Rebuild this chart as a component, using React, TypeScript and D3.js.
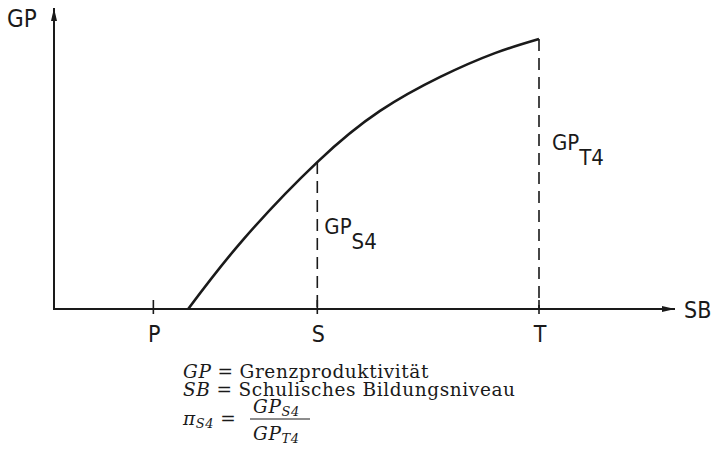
import React from "react";
import * as d3 from "d3";

// Marginal productivity curve over schooling level
const schoolingLevel = [21.6, 30.4, 42.4, 52.5, 62.2, 71.0, 78.1];
const marginalProductivity = [0, 22.9, 48.8, 65.8, 77.1, 85.0, 89.7];

// Marked positions on the schooling axis
const tickLabels = ["P", "S", "T"];
const tickValues = [16, 42.4, 78.1];

// Dashed drop lines (from the curve down to the axis) with their labels
const dropAt = [42.4, 78.1];
const dropHeights = [48.8, 89.7];
const dropMain = ["GP", "GP"];
const dropSub = ["S4", "T4"];

const W = 712;
const H = 463;
const sans = "'Liberation Sans Narrow', 'DejaVu Sans Condensed', sans-serif";
const serif = "'DejaVu Serif', serif";

export default function App() {
  const x = d3.scaleLinear().domain([0, 100]).range([54, 675]);
  const y = d3.scaleLinear().domain([0, 100]).range([309, 8]);

  const line = d3
    .line<number>()
    .x((_, i) => x(schoolingLevel[i]))
    .y((d) => y(d))
    .curve(d3.curveNatural);

  const x0 = x(0);
  const y0 = y(0);

  return (
    <svg
      width={W}
      height={H}
      style={{ position: "absolute", left: 0, top: 0, background: "#fff" }}
    >
      <defs>
        <marker
          id="arrow"
          viewBox="0 0 13 8"
          refX="13"
          refY="4"
          markerWidth="13"
          markerHeight="8"
          markerUnits="userSpaceOnUse"
          orient="auto"
        >
          <path d="M0,1 L13,4 L0,7 Z" fill="#1a1a1a" />
        </marker>
      </defs>

      {/* axes */}
      <line x1={x0} y1={y0} x2={x(100)} y2={y0} stroke="#1a1a1a" strokeWidth={2} markerEnd="url(#arrow)" />
      <line x1={x0} y1={y0 + 1} x2={x0} y2={y(100)} stroke="#1a1a1a" strokeWidth={2} markerEnd="url(#arrow)" />

      {/* axis ticks and labels */}
      {tickValues.map((v, i) => (
        <g key={tickLabels[i]}>
          <line x1={x(v)} x2={x(v)} y1={y0 - 9} y2={y0 + 5} stroke="#1a1a1a" strokeWidth={1.6} />
          <text x={x(v) + 1} y={y0 + 33} textAnchor="middle" fontFamily={sans} fontSize={23} fill="#1a1a1a">
            {tickLabels[i]}
          </text>
        </g>
      ))}

      <text x={7} y={27} fontFamily={sans} fontSize={24} fill="#1a1a1a">GP</text>
      <text x={684} y={318} fontFamily={sans} fontSize={23} fill="#1a1a1a">SB</text>

      {/* dashed drop lines */}
      {dropAt.map((v, i) => (
        <g key={"drop" + i}>
          <line
            x1={x(v)}
            x2={x(v)}
            y1={y(dropHeights[i])}
            y2={y0}
            stroke="#1a1a1a"
            strokeWidth={1.6}
            strokeDasharray="12,7"
          />
          <text
            x={x(v) + 7 + (i === 1 ? 6 : 0)}
            y={i === 0 ? 234 : 150}
            fontFamily={sans}
            fontSize={22}
            fill="#1a1a1a"
          >
            {dropMain[i]}
            <tspan dy={15} fontSize={22}>{dropSub[i]}</tspan>
          </text>
        </g>
      ))}

      {/* curve */}
      <path d={line(marginalProductivity) ?? ""} fill="none" stroke="#1a1a1a" strokeWidth={2.6} />

      {/* legend */}
      <g fontFamily={serif} fontSize={18.5} fill="#1a1a1a" letterSpacing={0.6}>
        <text x={183} y={378}>
          <tspan fontStyle="italic">GP</tspan>
          <tspan dx={6}>=</tspan>
          <tspan dx={6}>Grenzproduktivität</tspan>
        </text>
        <text x={183} y={396}>
          <tspan fontStyle="italic">SB</tspan>
          <tspan dx={6}>=</tspan>
          <tspan dx={6}>Schulisches Bildungsniveau</tspan>
        </text>
        <text x={183} y={425}>
          <tspan fontStyle="italic">π</tspan>
          <tspan fontStyle="italic" fontSize={13} dy={3}>S4</tspan>
          <tspan dx={6} dy={-3}>=</tspan>
        </text>
        <text x={253} y={413}>
          <tspan fontStyle="italic">GP</tspan>
          <tspan fontStyle="italic" fontSize={13} dy={3}>S4</tspan>
        </text>
        <line x1={250} x2={310} y1={419} y2={419} stroke="#1a1a1a" strokeWidth={1} />
        <text x={253} y={440}>
          <tspan fontStyle="italic">GP</tspan>
          <tspan fontStyle="italic" fontSize={13} dy={3}>T4</tspan>
        </text>
      </g>
    </svg>
  );
}
